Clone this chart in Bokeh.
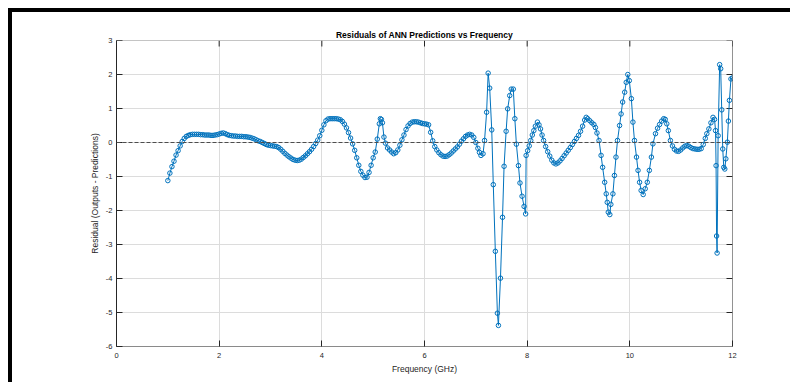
from bokeh.plotting import figure
from bokeh.models import Span, FixedTicker
from bokeh.embed import file_html
from bokeh.resources import INLINE

freq_ghz = [
    1.00, 1.04, 1.08, 1.12, 1.16, 1.20, 1.24, 1.28, 1.32, 1.36, 1.40, 1.44, 1.48, 1.52, 1.56, 1.60,
    1.64, 1.68, 1.72, 1.76, 1.80, 1.84, 1.88, 1.92, 1.96, 2.00, 2.04, 2.08, 2.12, 2.16, 2.20, 2.24,
    2.28, 2.32, 2.36, 2.40, 2.44, 2.48, 2.52, 2.56, 2.60, 2.64, 2.68, 2.72, 2.76, 2.80, 2.84, 2.88,
    2.92, 2.96, 3.00, 3.04, 3.08, 3.12, 3.16, 3.20, 3.24, 3.28, 3.32, 3.36, 3.40, 3.44, 3.48, 3.52,
    3.56, 3.60, 3.64, 3.68, 3.72, 3.76, 3.80, 3.84, 3.88, 3.92, 3.96, 4.00, 4.04, 4.08, 4.12, 4.16,
    4.20, 4.24, 4.28, 4.32, 4.36, 4.40, 4.44, 4.48, 4.52, 4.56, 4.60, 4.64, 4.68, 4.72, 4.76, 4.80,
    4.84, 4.88, 4.92, 4.96, 5.00, 5.04, 5.08, 5.12, 5.14, 5.16, 5.18, 5.21, 5.24, 5.28, 5.32, 5.36,
    5.40, 5.44, 5.48, 5.52, 5.56, 5.60, 5.64, 5.68, 5.72, 5.76, 5.80, 5.84, 5.88, 5.92, 5.96, 6.00,
    6.04, 6.08, 6.12, 6.16, 6.20, 6.24, 6.28, 6.32, 6.36, 6.40, 6.44, 6.48, 6.52, 6.56, 6.60, 6.64,
    6.68, 6.72, 6.76, 6.80, 6.84, 6.88, 6.92, 6.96, 7.00, 7.04, 7.07, 7.10, 7.14, 7.17, 7.21, 7.24,
    7.27, 7.31, 7.34, 7.38, 7.42, 7.44, 7.48, 7.52, 7.55, 7.59, 7.62, 7.66, 7.69, 7.73, 7.76, 7.79,
    7.83, 7.86, 7.90, 7.94, 7.97, 7.98, 8.01, 8.04, 8.07, 8.10, 8.13, 8.16, 8.20, 8.23, 8.26, 8.29,
    8.32, 8.36, 8.40, 8.44, 8.48, 8.52, 8.56, 8.60, 8.64, 8.68, 8.72, 8.76, 8.80, 8.84, 8.88, 8.92,
    8.96, 9.00, 9.04, 9.08, 9.12, 9.15, 9.18, 9.22, 9.26, 9.30, 9.33, 9.36, 9.40, 9.44, 9.47, 9.51,
    9.54, 9.56, 9.58, 9.61, 9.63, 9.67, 9.70, 9.73, 9.76, 9.80, 9.83, 9.86, 9.90, 9.93, 9.96, 9.99,
    10.03, 10.06, 10.09, 10.13, 10.16, 10.19, 10.22, 10.26, 10.30, 10.34, 10.38, 10.42, 10.45, 10.50,
    10.54, 10.58, 10.62, 10.66, 10.69, 10.72, 10.75, 10.79, 10.83, 10.87, 10.91, 10.95, 10.99, 11.03,
    11.07, 11.11, 11.15, 11.19, 11.23, 11.27, 11.31, 11.35, 11.39, 11.43, 11.47, 11.50, 11.54, 11.58,
    11.62, 11.65, 11.67, 11.68, 11.69, 11.70, 11.72, 11.75, 11.77, 11.79, 11.81, 11.83, 11.85, 11.87,
    11.90, 11.92, 11.94, 11.97, 12.00,
]

residual = [
    -1.12, -0.90, -0.71, -0.55, -0.37, -0.24, -0.10, 0.03, 0.12, 0.18, 0.21, 0.23, 0.24, 0.24, 0.24, 0.24,
    0.23, 0.23, 0.22, 0.22, 0.22, 0.21, 0.21, 0.22, 0.23, 0.25, 0.27, 0.28, 0.26, 0.23, 0.21, 0.20,
    0.19, 0.19, 0.18, 0.18, 0.18, 0.17, 0.17, 0.16, 0.15, 0.13, 0.11, 0.08, 0.05, 0.03, 0.00, -0.03,
    -0.06, -0.08, -0.09, -0.10, -0.11, -0.12, -0.15, -0.20, -0.26, -0.32, -0.37, -0.42, -0.46, -0.50, -0.52, -0.53,
    -0.52, -0.49, -0.44, -0.39, -0.33, -0.27, -0.20, -0.12, -0.03, 0.07, 0.20, 0.36, 0.52, 0.64, 0.69, 0.70,
    0.70, 0.70, 0.70, 0.69, 0.67, 0.62, 0.54, 0.43, 0.29, 0.13, -0.04, -0.23, -0.45, -0.67, -0.85, -0.96,
    -1.03, -1.02, -0.88, -0.67, -0.45, -0.28, 0.10, 0.55, 0.70, 0.68, 0.58, 0.16, -0.02, -0.16, -0.22, -0.28,
    -0.33, -0.30, -0.22, -0.08, 0.08, 0.22, 0.38, 0.49, 0.56, 0.60, 0.61, 0.61, 0.60, 0.58, 0.56, 0.55,
    0.54, 0.52, 0.30, 0.05, -0.12, -0.22, -0.30, -0.36, -0.40, -0.41, -0.40, -0.36, -0.31, -0.25, -0.19, -0.13,
    -0.05, 0.04, 0.11, 0.18, 0.22, 0.24, 0.22, 0.15, 0.00, -0.17, -0.29, -0.38, -0.33, 0.06, 0.89, 2.04,
    1.60, 0.37, -1.24, -3.20, -5.02, -5.38, -3.99, -2.20, -0.70, 0.33, 0.99, 1.38, 1.57, 1.57, 0.70, -0.05,
    -0.68, -1.19, -1.58, -1.88, -2.10, -0.38, -0.24, -0.10, 0.06, 0.22, 0.35, 0.48, 0.60, 0.52, 0.40, 0.22,
    0.06, -0.12, -0.27, -0.40, -0.52, -0.60, -0.63, -0.60, -0.54, -0.47, -0.39, -0.31, -0.23, -0.15, -0.06, 0.03,
    0.12, 0.21, 0.33, 0.48, 0.66, 0.74, 0.70, 0.64, 0.58, 0.53, 0.44, 0.28, 0.06, -0.38, -0.73, -1.17,
    -1.51, -1.76, -2.05, -2.12, -1.82, -1.51, -0.97, -0.43, 0.06, 0.50, 0.84, 1.19, 1.48, 1.77, 2.00, 1.82,
    1.29, 0.60, 0.06, -0.43, -0.82, -1.17, -1.41, -1.53, -1.36, -1.17, -0.82, -0.43, -0.04, 0.26,
    0.42, 0.53, 0.63, 0.70, 0.68, 0.55, 0.35, 0.06, -0.10, -0.20, -0.25, -0.26, -0.22, -0.16,
    -0.11, -0.09, -0.11, -0.15, -0.18, -0.19, -0.20, -0.20, -0.18, -0.06, 0.12, 0.26, 0.40, 0.58,
    0.74, 0.68, 0.35, -0.68, -2.75, -3.25, 0.20, 2.29, 2.17, 0.96, -0.19, -0.73, -0.78, -0.48,
    0.01, 0.63, 1.24, 1.87, 1.90,
]

x_ticks = [0, 2, 4, 6, 8, 10, 12]
y_ticks = [-6, -5, -4, -3, -2, -1, 0, 1, 2, 3]
y_tick_labels = {t: str(t) for t in y_ticks}

title_text = "Residuals of ANN Predictions vs Frequency"
x_label = "Frequency (GHz)"
y_label = "Residual (Outputs - Predictions)"

BLUE = "#0072BD"
FONT = "Liberation Sans"
TXT = "#262626"
X0, X1, Y0, Y1 = 0, 12, -6, 3
FRAME_W, FRAME_H = 616, 306
TICK_PX = 6

p = figure(width=782, height=374, x_range=(X0, X1), y_range=(Y0, Y1),
           output_backend="svg", toolbar_location=None,
           min_border_left=104, min_border_right=62, min_border_top=28, min_border_bottom=40,
           title=title_text)
p.styles = {"margin-left": "8px", "margin-top": "8px",
            "border-top": "4px solid black", "border-left": "4px solid black"}
p.background_fill_color = "white"
p.border_fill_color = "white"
p.outline_line_color = None

p.title.align = "center"
p.title.text_font = FONT
p.title.text_font_size = "8.5px"
p.title.text_font_style = "bold"
p.title.text_color = "black"
p.title.standoff = 2

for ax in (p.xaxis[0], p.yaxis[0]):
    ax.major_tick_in = TICK_PX
    ax.major_tick_out = 0
    ax.minor_tick_in = 0
    ax.minor_tick_out = 0
    ax.major_tick_line_color = "#262626"
    ax.major_label_text_font = FONT
    ax.major_label_text_font_size = "7.5px"
    ax.major_label_text_color = TXT
    ax.axis_label_text_font = FONT
    ax.axis_label_text_font_size = "8.5px"
    ax.axis_label_text_font_style = "normal"
    ax.axis_label_text_color = TXT

p.xaxis[0].ticker = FixedTicker(ticks=x_ticks)
p.yaxis[0].ticker = FixedTicker(ticks=y_ticks)
p.yaxis[0].major_label_overrides = y_tick_labels
p.xaxis[0].axis_label = x_label
p.yaxis[0].axis_label = y_label
p.xaxis[0].axis_line_color = "#8a8a8a"
p.yaxis[0].axis_line_color = "#262626"
p.xaxis[0].major_label_standoff = 6
p.yaxis[0].major_label_standoff = 4
p.xaxis[0].axis_label_standoff = 3
p.yaxis[0].axis_label_standoff = 3

p.xgrid.ticker = FixedTicker(ticks=x_ticks)
p.ygrid.ticker = FixedTicker(ticks=y_ticks)
p.grid.grid_line_color = "#dcdcdc"
p.grid.grid_line_width = 1

# box: top (gray) and right (black) frame lines, with inward ticks
p.add_layout(Span(location=Y1, dimension="width", line_color="#8a8a8a", line_width=1))
p.add_layout(Span(location=X1, dimension="height", line_color="#262626", line_width=1))
dy = TICK_PX * (Y1 - Y0) / FRAME_H
dx = TICK_PX * (X1 - X0) / FRAME_W
p.segment(x0=x_ticks, y0=[Y1] * len(x_ticks), x1=x_ticks, y1=[Y1 - dy] * len(x_ticks),
          line_color="#262626", line_width=1)
p.segment(x0=[X1] * len(y_ticks), y0=y_ticks, x1=[X1 - dx] * len(y_ticks), y1=y_ticks,
          line_color="#262626", line_width=1)

zero = Span(location=0, dimension="width", line_color="#4d4d4d", line_dash="4 2", line_width=1)
p.add_layout(zero)

p.line(freq_ghz, residual, line_color=BLUE, line_width=1)
p.scatter(freq_ghz, residual, marker="circle", size=4.5, line_color=BLUE, fill_color=None, line_width=1)

open("out.html", "w").write(file_html(p, INLINE))
